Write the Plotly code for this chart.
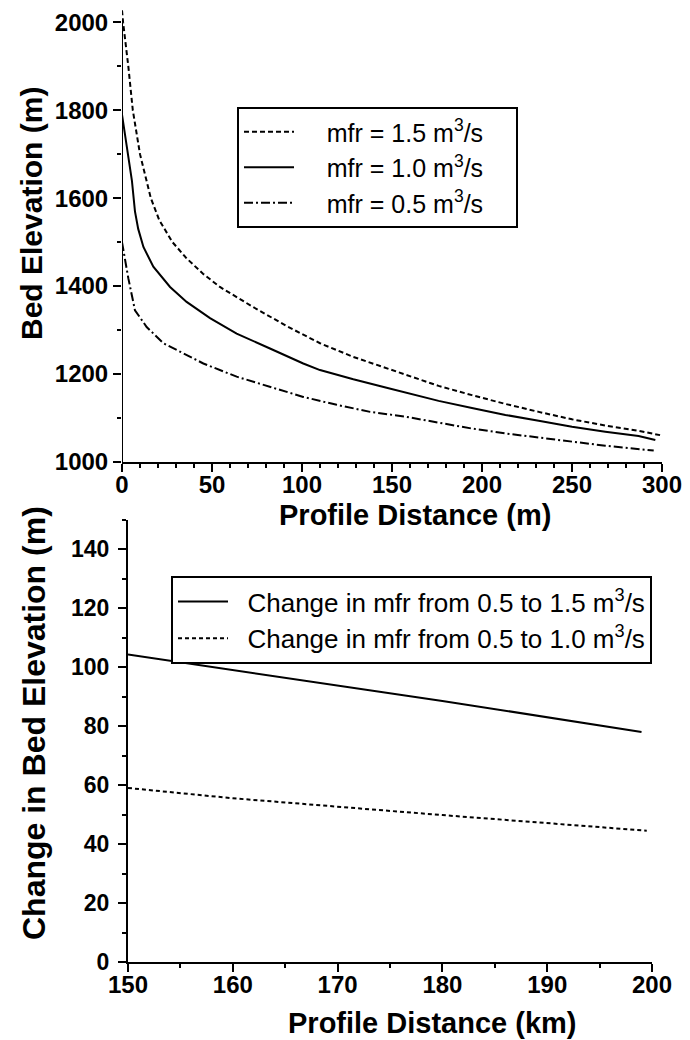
import plotly.graph_objects as go

# ---- Top panel data: bed elevation profiles (m) ----
x_15 = [0, 0.6, 3.5, 6, 10, 16, 20.7, 28, 35.9, 45, 54.4, 73, 91.5, 110, 128.5, 147, 165.6, 175.9, 194.4, 213, 231.5, 250, 268.5, 287, 299]
y_15 = [2027, 2000, 1900, 1800, 1700, 1600, 1550, 1500, 1463, 1428, 1398, 1352, 1309, 1270, 1239, 1213, 1188, 1173, 1152, 1132, 1114, 1097, 1083, 1071, 1061]

x_10 = [0, 1.5, 3.5, 5.5, 7.2, 9, 11.9, 17.4, 26.7, 35.9, 48.9, 63.7, 82.2, 100.7, 110, 128.5, 147, 157.4, 175.9, 194.4, 213, 231.5, 250, 268.5, 287, 296.3]
y_10 = [1790, 1750, 1700, 1640, 1570, 1530, 1489, 1444, 1398, 1364, 1327, 1292, 1258, 1224, 1209, 1188, 1169, 1158, 1139, 1123, 1107, 1094, 1080, 1069, 1059, 1050]

x_05 = [0, 0.7, 3.5, 7.2, 13.7, 23, 30.4, 45.2, 63.7, 82.2, 100.7, 119.3, 137.8, 157.4, 175.9, 194.4, 213, 231.5, 250, 268.5, 295.4]
y_05 = [1500, 1482, 1418, 1345, 1307, 1270, 1255, 1224, 1194, 1171, 1148, 1130, 1114, 1103, 1089, 1076, 1065, 1056, 1046, 1037, 1026]

# ---- Bottom panel data: change in bed elevation (m) ----
x_c15 = [150, 160, 180, 199]
y_c15 = [104.2, 99, 88.5, 78]
x_c10 = [150, 160, 180, 199.5]
y_c10 = [59, 55.5, 49.8, 44.5]

top_names = ["mfr = 1.5 m<sup>3</sup>/s", "mfr = 1.0 m<sup>3</sup>/s", "mfr = 0.5 m<sup>3</sup>/s"]
bot_names = ["Change in mfr from 0.5 to 1.5 m<sup>3</sup>/s", "Change in mfr from 0.5 to 1.0 m<sup>3</sup>/s"]

FONT = "Liberation Sans, Arial, Helvetica, sans-serif"
W, H = 690, 1040


def py(p):
    return 1 - p / H


def px(p):
    return p / W


NB = "&nbsp;"

fig = go.Figure()
fig.add_trace(go.Scatter(x=x_15, y=y_15, mode="lines", name=NB * 4 + top_names[0] + NB * 4,
                         line=dict(color="black", width=2, dash="5px,3px"), xaxis="x", yaxis="y", legend="legend"))
fig.add_trace(go.Scatter(x=x_10, y=y_10, mode="lines", name=NB * 4 + top_names[1] + NB * 4,
                         line=dict(color="black", width=2), xaxis="x", yaxis="y", legend="legend"))
fig.add_trace(go.Scatter(x=x_05, y=y_05, mode="lines", name=NB * 4 + top_names[2] + NB * 4,
                         line=dict(color="black", width=2, dash="9px,3px,2px,3px"), xaxis="x", yaxis="y", legend="legend"))
fig.add_trace(go.Scatter(x=x_c15, y=y_c15, mode="lines", name=NB * 2 + bot_names[0],
                         line=dict(color="black", width=2), xaxis="x2", yaxis="y2", legend="legend2"))
fig.add_trace(go.Scatter(x=x_c10, y=y_c10, mode="lines", name=NB * 2 + bot_names[1],
                         line=dict(color="black", width=2, dash="4px,3px"), xaxis="x2", yaxis="y2", legend="legend2"))

# y-axis line of top panel drawn only up to 2000
fig.add_shape(type="line", xref="x", yref="y", x0=0, x1=0, y0=1000, y1=2000,
              line=dict(color="black", width=2))

tickfont = dict(family=FONT, size=24, color="black", weight="bold")
tickfont2 = dict(family=FONT, size=23, color="black", weight="bold")

common = dict(showgrid=False, zeroline=False, ticks="outside", ticklen=8, tickwidth=2,
              tickcolor="black", automargin=False)
minor = dict(ticks="outside", ticklen=4, tickwidth=1.5, tickcolor="black")

fig.update_layout(
    width=W, height=H, margin=dict(l=0, r=0, t=0, b=0),
    paper_bgcolor="white", plot_bgcolor="white",
    font=dict(family=FONT, color="black"),
    showlegend=True,
    xaxis=dict(domain=[px(122), px(662)], range=[0, 300], dtick=50, anchor="y",
               showline=True, linecolor="black", linewidth=2, tickfont=tickfont,
               ticklabelstandoff=-8,
               minor=dict(dtick=10, **minor), **common),
    yaxis=dict(domain=[py(462), py(9)], range=[1000, 2030],
               anchor="x", showline=False, tickfont=tickfont,
               tickvals=[1000, 1200, 1400, 1600, 1800, 2000],
               minor=dict(tickvals=[1100, 1300, 1500, 1700, 1900], **minor), **common),
    xaxis2=dict(domain=[px(128), px(652)], range=[150, 200], dtick=10, anchor="y2",
                showline=True, linecolor="black", linewidth=2, tickfont=tickfont,
                ticklabelstandoff=-8,
                minor=dict(dtick=5, **minor), **common),
    yaxis2=dict(domain=[py(962), py(519.5)], range=[0, 150], dtick=20, anchor="x2",
                showline=True, linecolor="black", linewidth=2, tickfont=tickfont2,
                ticklabelstandoff=4,
                minor=dict(dtick=10, **minor), **common),
    legend=dict(x=px(237), y=py(107), xanchor="left", yanchor="top", itemwidth=50,
                bgcolor="white", bordercolor="black", borderwidth=2,
                font=dict(family=FONT, size=25, color="black")),
    legend2=dict(x=px(171), y=py(576), xanchor="left", yanchor="top", itemwidth=50,
                 bgcolor="white", bordercolor="black", borderwidth=2,
                 font=dict(family=FONT, size=26, color="black")),
)

# axis titles
fig.add_annotation(text="Bed Elevation (m)", xref="paper", yref="paper", x=px(32), y=py(214),
                   textangle=-90, showarrow=False, xanchor="center", yanchor="middle",
                   font=dict(family=FONT, size=30, color="black", weight="bold"))
fig.add_annotation(text="Profile Distance (m)", xref="paper", yref="paper", x=px(415), y=py(515),
                   showarrow=False, xanchor="center", yanchor="middle",
                   font=dict(family=FONT, size=29, color="black", weight="bold"))
fig.add_annotation(text="Change in Bed Elevation (m)", xref="paper", yref="paper", x=px(34), y=py(723),
                   textangle=-90, showarrow=False, xanchor="center", yanchor="middle",
                   font=dict(family=FONT, size=32, color="black", weight="bold"))
fig.add_annotation(text="Profile Distance (km)", xref="paper", yref="paper", x=px(432), y=py(1023),
                   showarrow=False, xanchor="center", yanchor="middle",
                   font=dict(family=FONT, size=29, color="black", weight="bold"))

fig.write_html("out.html", config={"displayModeBar": False},
               post_script="document.body.style.margin='0';document.body.style.overflow='hidden';")
